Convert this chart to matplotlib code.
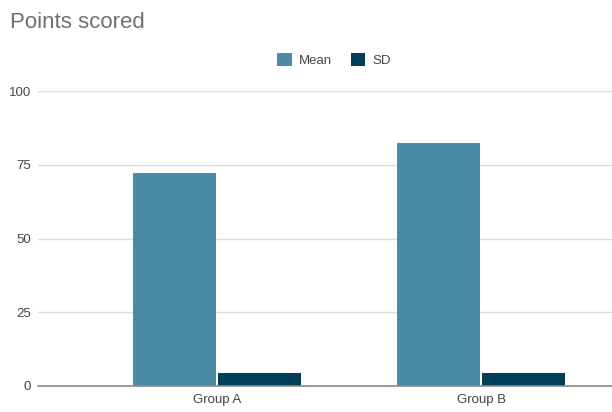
import matplotlib
matplotlib.use("Agg")
import matplotlib.pyplot as plt
import numpy as np

categories = ["Group A", "Group B"]
mean_values = [72.3, 82.4]
sd_values = [4.4, 4.4]
series_names = ["Mean", "SD"]
yticks = [0, 25, 50, 75, 100]

mean_color = "#4a8aa6"
sd_color = "#003f5c"

fig = plt.figure(figsize=(6.12, 4.12), dpi=100)
W, H = 612, 412
ax_left, ax_right = 38, 612
ax_top, ax_bottom = 91, 386
ax = fig.add_axes([ax_left / W, 1 - ax_bottom / H, (ax_right - ax_left) / W, (ax_bottom - ax_top) / H])

x = np.arange(len(categories))
unit = 264.0
bw = 83 / unit
gap = 2 / unit
ax.bar(x - bw / 2 - gap / 2, mean_values, width=bw, color=mean_color, label=series_names[0], zorder=3)
ax.bar(x + bw / 2 + gap / 2, sd_values, width=bw, color=sd_color, label=series_names[1], zorder=3)

ax.set_xlim(-(217 - ax_left) / unit, (ax_right - 217) / unit)
ax.set_ylim(0, 100)
ax.set_yticks(yticks)
ax.set_yticklabels([str(v) for v in yticks], fontsize=9.5, color="#444444", family="Liberation Sans")
ax.set_xticks(x)
ax.set_xticklabels(categories, fontsize=9.5, color="#444444", family="Liberation Sans")
ax.tick_params(axis="both", length=0)
ax.tick_params(axis="x", pad=6)
ax.tick_params(axis="y", pad=5)
ax.grid(axis="y", color="#dcdcdc", linewidth=1, zorder=0)
for s in ["top", "right", "left"]:
    ax.spines[s].set_visible(False)
ax.spines["bottom"].set_color("#8a8a8a")
ax.spines["bottom"].set_linewidth(1.2)
ax.spines["bottom"].set_zorder(4)

fig.text(10 / W, 1 - 22 / H, "Points scored", fontsize=16, color="#707070",
         family="Liberation Sans", va="center", ha="left")

leg = fig.legend(loc="center", bbox_to_anchor=(334 / W, 1 - 60 / H), ncol=2, frameon=False,
                 handlelength=1.1, handleheight=1.1, handletextpad=0.55,
                 columnspacing=1.4, prop={"family": "Liberation Sans", "size": 9.5})
for t in leg.get_texts():
    t.set_color("#444444")

fig.savefig("out.png", dpi=100)
